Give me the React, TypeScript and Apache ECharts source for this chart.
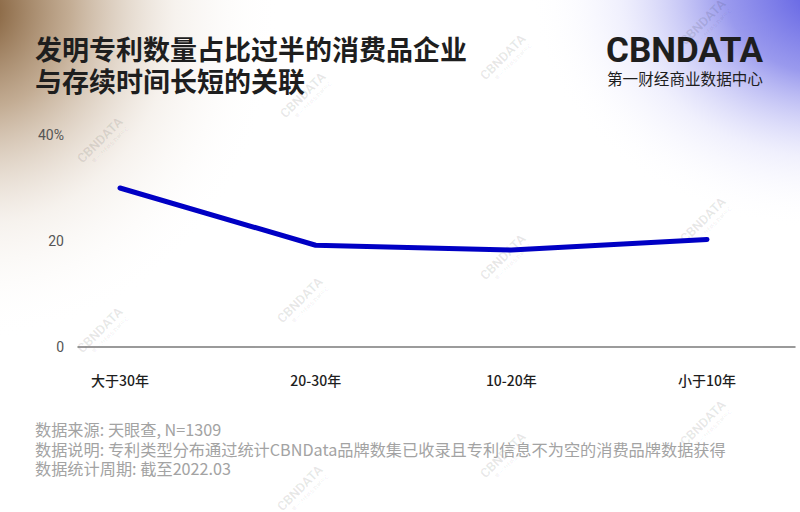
import React, { useEffect, useRef } from "react";
import * as echarts from "echarts";

const categories = ["大于30年", "20-30年", "10-20年", "小于10年"];
const shares = [30, 19.2, 18.3, 20.3];
const yMax = 40;
const yInterval = 20;

const titleLines = ["发明专利数量占比过半的消费品企业", "与存续时间长短的关联"];
const footnotes = [
  "数据来源: 天眼查, N=1309",
  "数据说明: 专利类型分布通过统计CBNData品牌数集已收录且专利信息不为空的消费品牌数据获得",
  "数据统计周期: 截至2022.03",
];

const wmPos = [
  [100, 140], [100, 330],
  [303, 95], [300, 300], [300, 488],
  [503, 57], [503, 257], [503, 455],
  [703, 22], [703, 220], [703, 423],
];

export default function App() {
  const ref = useRef<HTMLDivElement>(null);
  useEffect(() => {
    const chart = echarts.init(ref.current!, null, { renderer: "svg" });
    const cjk = '"Noto Sans CJK SC", "Noto Sans", sans-serif';

    const watermarks = wmPos.map(([x, y]) => ({
      type: "group",
      x,
      y,
      rotation: Math.PI / 4,
      z: -5,
      silent: true,
      children: [
        {
          type: "text",
          style: {
            text: "CBNDATA",
            x: 0,
            y: 0,
            fill: "rgba(0,0,0,0.09)",
            font: "bold 13px Roboto, sans-serif",
            align: "center",
            verticalAlign: "middle",
          },
        },
        {
          type: "text",
          style: {
            text: "第一财经商业数据中心",
            x: 4,
            y: 10,
            fill: "rgba(0,0,0,0.08)",
            font: "5px " + cjk,
            align: "center",
            verticalAlign: "middle",
          },
        },
      ],
    }));

    const titleTexts = titleLines.map((t, i) => ({
      type: "text",
      z: 10,
      style: {
        text: t,
        x: 35,
        y: 48.5 + i * 31.5,
        fill: "#1e1e1e",
        font: "bold 27px " + cjk,
        verticalAlign: "middle",
      },
    }));

    const footTexts = footnotes.map((t, i) => ({
      type: "text",
      z: 10,
      style: {
        text: t,
        x: 35,
        y: 429 + i * 19.5,
        fill: "#a3a3a3",
        font: "16.2px " + cjk,
        verticalAlign: "middle",
      },
    }));

    const option: any = {
      animation: false,
      backgroundColor: "#ffffff",
      graphic: [
        {
          type: "ellipse",
          z: -20,
          silent: true,
          shape: { cx: -20, cy: 10, rx: 300, ry: 330 },
          style: {
            fill: {
              type: "radial",
              x: 0.5,
              y: 0.5,
              r: 0.5,
              colorStops: [
                { offset: 0, color: "rgba(125,88,50,1)" },
                { offset: 0.3, color: "rgba(175,145,112,0.75)" },
                { offset: 0.65, color: "rgba(230,218,205,0.35)" },
                { offset: 1, color: "rgba(255,255,255,0)" },
              ],
            },
          },
        },
        {
          type: "ellipse",
          z: -20,
          silent: true,
          shape: { cx: 830, cy: -10, rx: 300, ry: 240 },
          style: {
            fill: {
              type: "radial",
              x: 0.5,
              y: 0.5,
              r: 0.5,
              colorStops: [
                { offset: 0, color: "rgba(85,85,225,1)" },
                { offset: 0.35, color: "rgba(120,120,232,0.75)" },
                { offset: 0.7, color: "rgba(205,205,248,0.3)" },
                { offset: 1, color: "rgba(255,255,255,0)" },
              ],
            },
          },
        },
        ...watermarks,
        ...titleTexts,
        {
          type: "text",
          z: 10,
          style: {
            text: "CBNDATA",
            x: 606,
            y: 50.5,
            fill: "#1e1e1e",
            font: "bold 35px Roboto, sans-serif",
            verticalAlign: "middle",
          },
        },
        {
          type: "text",
          z: 10,
          style: {
            text: "第一财经商业数据中心",
            x: 607,
            y: 78,
            fill: "#1e1e1e",
            font: "15.6px " + cjk,
            verticalAlign: "middle",
          },
        },
        ...footTexts,
      ],
      grid: [
        { left: 120, right: 93, top: 135, bottom: 165 },
        { left: 78, right: 5, top: 135, bottom: 165 },
      ],
      xAxis: [
        {
          type: "category",
          gridIndex: 0,
          data: categories,
          boundaryGap: false,
          axisLine: { show: false },
          axisTick: { show: false },
          axisLabel: {
            margin: 26,
            color: "#1e1e1e",
            fontSize: 14,
            fontWeight: 500,
            fontFamily: cjk,
          },
        },
        {
          type: "value",
          gridIndex: 1,
          min: 0,
          max: 1,
          axisLine: { show: true, lineStyle: { color: "#7a7a7a", width: 1.5 } },
          axisTick: { show: false },
          axisLabel: { show: false },
          splitLine: { show: false },
        },
      ],
      yAxis: [
        {
          type: "value",
          gridIndex: 0,
          min: 0,
          max: yMax,
          interval: yInterval,
          axisLine: { show: false },
          axisTick: { show: false },
          splitLine: { show: false },
          axisLabel: {
            margin: 56,
            color: "#555",
            fontSize: 14,
            fontFamily: "Roboto, sans-serif",
            formatter: (v: number) => (v === yMax ? v + "%" : String(v)),
          },
        },
        {
          type: "value",
          gridIndex: 1,
          min: 0,
          max: 1,
          show: false,
        },
      ],
      series: [
        {
          type: "line",
          xAxisIndex: 0,
          yAxisIndex: 0,
          data: shares,
          showSymbol: false,
          symbol: "none",
          lineStyle: { color: "#0000c4", width: 5, cap: "round", join: "round" },
          z: 5,
        },
      ],
    };
    chart.setOption(option);
    return () => chart.dispose();
  }, []);
  return (
    <div
      ref={ref}
      style={{ position: "fixed", left: 0, top: 0, width: 800, height: 512 }}
    />
  );
}
